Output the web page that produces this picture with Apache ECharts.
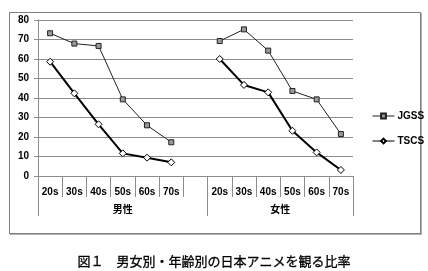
<!DOCTYPE html>
<html>
<head>
<meta charset="utf-8">
<script src="https://cdn.jsdelivr.net/npm/echarts@6/dist/echarts.min.js"></script>
<style>
html,body{margin:0;padding:0;background:#fff;}
#wrap{position:relative;width:428px;height:271px;}
#box{position:absolute;left:9px;top:12px;width:410px;height:220px;border:1px solid #808080;box-shadow:1px 1px 0 #b0b0b0;}
#chart{position:absolute;left:0;top:0;width:428px;height:271px;}
</style>
</head>
<body>
<div id="wrap"><div id="box"></div><div id="chart"></div></div>
<script>
// Data
const ageLabels = ['20s','30s','40s','50s','60s','70s'];
const groupLabels = ['男性','女性'];
const jgssMale   = [73.2, 67.9, 66.7, 39.3, 26.0, 17.3];
const jgssFemale = [69.2, 75.2, 64.3, 43.6, 39.3, 21.5];
const tscsMale   = [58.6, 42.4, 26.5, 11.6, 9.4, 7.0];
const tscsFemale = [60.0, 46.7, 42.9, 23.2, 12.1, 3.1];
const yTicks = [0,10,20,30,40,50,60,70,80];
const caption = '図１　男女別・年齢別の日本アニメを観る比率';

// categories: male ages, blank gap, female ages
const categories = ageLabels.concat([''], ageLabels);
const jgss = jgssMale.concat([null], jgssFemale);
const tscs = tscsMale.concat([null], tscsFemale);

// group axis at half-slot resolution (points, boundaryGap false)
const maleSlots = ageLabels.length + 1, femaleSlots = ageLabels.length;
const totalHalf = (maleSlots + femaleSlots) * 2;
const groupAxisData = [];
for (let i = 0; i <= totalHalf; i++) groupAxisData.push('');
groupAxisData[maleSlots] = groupLabels[0];
groupAxisData[maleSlots * 2 + femaleSlots] = groupLabels[1];
const groupBounds = [0, maleSlots * 2, totalHalf];

const grid = '#8c8c8c';
const font = 'Liberation Sans, Arial, sans-serif';
const chart = echarts.init(document.getElementById('chart'), null, {renderer:'canvas'});
chart.setOption({
  animation: false,
  backgroundColor: 'transparent',
  title: {
    text: caption, left: 'center', top: 250,
    textStyle: {fontSize: 13, fontWeight: 'normal', color: '#000', fontFamily: 'Noto Sans CJK JP',
      textBorderColor: '#000', textBorderWidth: 0.3}
  },
  grid: {left: 38, right: 75, top: 20, bottom: 95},
  legend: {
    orient: 'vertical', left: 367, top: 106, itemWidth: 22, itemHeight: 6, itemGap: 15,
    lineStyle: {width: 1},
    textStyle: {fontSize: 10, fontWeight: 'bold', color: '#000', fontFamily: font, padding:[0,0,0,-2]},
    data: ['JGSS','TSCS']
  },
  xAxis: [{
    type: 'category', data: categories, position: 'bottom', boundaryGap: true,
    axisLine: {show: true, lineStyle: {color: grid, width: 1}},
    axisTick: {show: true, interval: 0, length: 21, lineStyle: {color: grid, width: 1}},
    axisLabel: {interval: 0, margin: 11, fontSize: 10, fontWeight: 'bold', color: '#000', fontFamily: font}
  },{
    type: 'category', data: groupAxisData, position: 'bottom', offset: 0, boundaryGap: false,
    axisLine: {show: false},
    axisTick: {show: true, length: 40, interval: function(idx){ return groupBounds.indexOf(idx) >= 0; }, lineStyle: {color: grid, width: 1}},
    axisLabel: {interval: 0, margin: 28, fontSize: 10, fontWeight: 'bold', color: '#000', fontFamily: 'Noto Sans CJK JP'}
  }],
  yAxis: {
    type: 'value', min: 0, max: 80, interval: 10,
    axisLine: {show: true, lineStyle: {color: grid, width: 1}},
    axisTick: {show: true, length: 4, lineStyle: {color: grid}},
    axisLabel: {margin: 9, fontSize: 10, fontWeight: 'bold', color: '#000', fontFamily: font},
    splitLine: {show: true, lineStyle: {color: grid, width: 1}}
  },
  series: [{
    name: 'JGSS', type: 'line', data: jgss, xAxisIndex: 0,
    symbol: 'rect', symbolSize: 5, showAllSymbol: true, connectNulls: false,
    lineStyle: {color: '#222', width: 1},
    itemStyle: {color: '#9a9a9a', borderColor: '#222', borderWidth: 1}
  },{
    name: 'TSCS', type: 'line', data: tscs, xAxisIndex: 0,
    symbol: 'diamond', symbolSize: 7, showAllSymbol: true, connectNulls: false,
    lineStyle: {color: '#000', width: 2},
    itemStyle: {color: '#fff', borderColor: '#000', borderWidth: 1}
  }]
});
</script>
</body>
</html>
